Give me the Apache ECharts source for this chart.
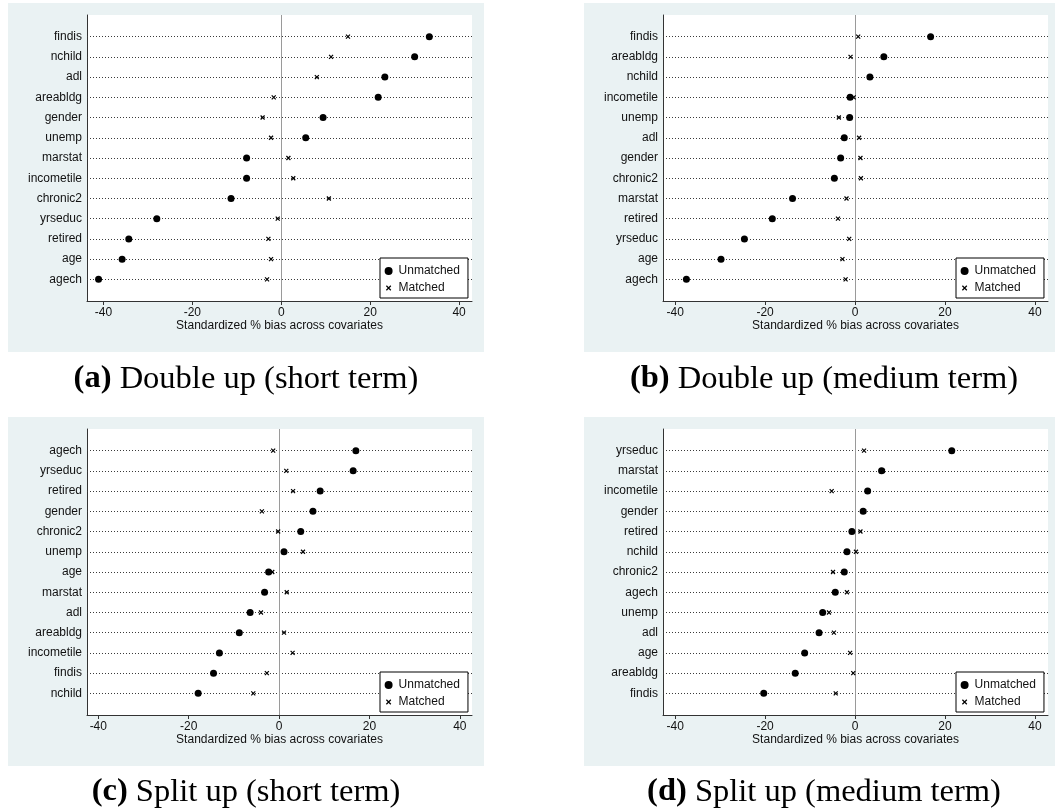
<!DOCTYPE html>
<html>
<head>
<meta charset="utf-8">
<script src="https://cdn.jsdelivr.net/npm/echarts@6/dist/echarts.min.js"></script>
<style>
  html, body { margin: 0; padding: 0; background: #ffffff; }
  #chart { width: 1055px; height: 811px; }
</style>
</head>
<body>
<div id="chart"></div>
<script>
// Standardized % bias per covariate, before (Unmatched) and after (Matched) matching.
// Row order is top to bottom as plotted.

// (a) Double up, short term
const namesA = ['findis', 'nchild', 'adl', 'areabldg', 'gender', 'unemp', 'marstat', 'incometile', 'chronic2', 'yrseduc', 'retired', 'age', 'agech'];
const unmatchedA = [33.3, 30.0, 23.3, 21.8, 9.4, 5.5, -7.8, -7.8, -11.3, -28.0, -34.3, -35.8, -41.1];
const matchedA = [15.0, 11.2, 8.0, -1.7, -4.2, -2.3, 1.6, 2.7, 10.7, -0.8, -2.9, -2.3, -3.2];

// (b) Double up, medium term
const namesB = ['findis', 'areabldg', 'nchild', 'incometile', 'unemp', 'adl', 'gender', 'chronic2', 'marstat', 'retired', 'yrseduc', 'age', 'agech'];
const unmatchedB = [16.8, 6.4, 3.3, -1.1, -1.2, -2.4, -3.2, -4.6, -13.9, -18.4, -24.6, -29.8, -37.5];
const matchedB = [0.7, -1.0, 3.2, -0.3, -3.6, 0.9, 1.2, 1.3, -1.9, -3.8, -1.3, -2.8, -2.1];

// (c) Split up, short term
const namesC = ['agech', 'yrseduc', 'retired', 'gender', 'chronic2', 'unemp', 'age', 'marstat', 'adl', 'areabldg', 'incometile', 'findis', 'nchild'];
const unmatchedC = [17.0, 16.4, 9.1, 7.5, 4.8, 1.1, -2.3, -3.2, -6.4, -8.8, -13.2, -14.5, -17.9];
const matchedC = [-1.3, 1.6, 3.1, -3.8, -0.2, 5.3, -1.5, 1.7, -4.0, 1.1, 3.0, -2.7, -5.7];

// (d) Split up, medium term
const namesD = ['yrseduc', 'marstat', 'incometile', 'gender', 'retired', 'nchild', 'chronic2', 'agech', 'unemp', 'adl', 'age', 'areabldg', 'findis'];
const unmatchedD = [21.5, 5.9, 2.8, 1.8, -0.7, -1.8, -2.4, -4.4, -7.2, -8.0, -11.2, -13.3, -20.3];
const matchedD = [2.0, 6.2, -5.2, 2.0, 1.2, 0.2, -4.9, -1.8, -5.8, -4.7, -1.1, -0.4, -4.3];

const xTicks = [-40, -20, 0, 20, 40];
const xTitle = 'Standardized % bias across covariates';
const legendNames = ['Unmatched', 'Matched'];
const captionTags = ['(a)', '(b)', '(c)', '(d)'];
const captionTexts = ['Double up (short term)', 'Double up (medium term)', 'Split up (short term)', 'Split up (medium term)'];

// Layout of the four panels (pixels) and their x-axis extents
const panels = [
  { names: namesA, un: unmatchedA, ma: matchedA, left: 87,  top: 15,  min: -43.7, max: 42.9, bgX: 8,   bgY: 3,   capX: 246, capY: 379 },
  { names: namesB, un: unmatchedB, ma: matchedB, left: 663, top: 15,  min: -42.7, max: 42.9, bgX: 584, bgY: 3,   capX: 824, capY: 379 },
  { names: namesC, un: unmatchedC, ma: matchedC, left: 87,  top: 429, min: -42.5, max: 42.7, bgX: 8,   bgY: 417, capX: 246, capY: 792 },
  { names: namesD, un: unmatchedD, ma: matchedD, left: 663, top: 429, min: -42.7, max: 42.9, bgX: 584, bgY: 417, capX: 824, capY: 792 }
];

const PLOT_W = 385, PLOT_H = 286, BG_W = 476, BG_H = 349;
const FONT = 'Liberation Sans, Arial, Helvetica, sans-serif';
const CAPTION_FONT = '"Liberation Serif", "Times New Roman", serif';
const CAPTION_SIZE = 32.5;
const INK = '#111111';
const AXIS = '#333333';
const PANEL_BG = '#eaf2f3';
const ROW_PAD = 1.07;

const crossPath = 'path://M0,0L10,10M10,0L0,10';
const crossIcon = 'path://M-4,-4M0,0L10,10M10,0L0,10M14,14';

const grid = [], xAxis = [], yAxis = [], series = [], legend = [], graphic = [];

panels.forEach((p, k) => {
  const rows = p.names.map((_, i) => i);

  graphic.push({
    type: 'rect', z: -10, silent: true,
    shape: { x: p.bgX, y: p.bgY, width: BG_W, height: BG_H },
    style: { fill: PANEL_BG }
  });
  graphic.push({
    type: 'text', silent: true,
    x: p.capX, y: p.capY,
    style: {
      text: '{b|' + captionTags[k] + '} ' + captionTexts[k],
      font: CAPTION_SIZE + 'px ' + CAPTION_FONT,
      fill: '#000',
      align: 'center', verticalAlign: 'middle',
      rich: { b: { fontWeight: 'bold', fontSize: CAPTION_SIZE, fontFamily: CAPTION_FONT } }
    }
  });

  grid.push({
    left: p.left, top: p.top, width: PLOT_W, height: PLOT_H,
    show: true, backgroundColor: '#ffffff', borderWidth: 0
  });

  xAxis.push({
    type: 'value', gridIndex: k, min: p.min, max: p.max,
    splitLine: { show: false },
    axisLine: { show: true, onZero: false, lineStyle: { color: AXIS, width: 1 } },
    axisTick: { show: true, customValues: xTicks, length: 4, lineStyle: { color: AXIS } },
    axisLabel: { customValues: xTicks, margin: 6, fontSize: 12, color: INK, fontFamily: FONT },
    name: xTitle, nameLocation: 'middle', nameGap: 19,
    nameTextStyle: { fontSize: 12, color: INK, fontFamily: FONT }
  });

  yAxis.push({
    type: 'value', gridIndex: k, inverse: true,
    min: -ROW_PAD, max: p.names.length - 1 + ROW_PAD,
    splitLine: { show: false },
    axisLine: { show: true, onZero: false, lineStyle: { color: AXIS, width: 1 } },
    axisTick: { show: false, customValues: rows },
    axisLabel: {
      customValues: rows, margin: 5, fontSize: 12, color: INK, fontFamily: FONT,
      formatter: v => p.names[Math.round(v)]
    }
  });

  series.push({
    name: legendNames[0], type: 'scatter', xAxisIndex: k, yAxisIndex: k, z: 4,
    symbol: 'circle', symbolSize: 7,
    itemStyle: { color: '#000000', opacity: 1 },
    data: p.un.map((v, i) => [v, i])
  });

  series.push({
    name: legendNames[1], type: 'scatter', xAxisIndex: k, yAxisIndex: k, z: 3,
    symbol: crossPath, symbolSize: 4,
    itemStyle: { color: 'transparent', borderColor: '#000000', borderWidth: 1.2, opacity: 1 },
    data: p.ma.map((v, i) => [v, i]),
    markLine: {
      silent: true, z: 1, symbol: 'none', animation: false,
      label: { show: false },
      emphasis: { disabled: true },
      data: rows.map(i => ({ yAxis: i, lineStyle: { color: '#3a3a3a', width: 1, type: [1, 2] } }))
        .concat([{ xAxis: 0, lineStyle: { color: '#9a9a9a', width: 1, type: 'solid' } }])
    }
  });

  legend.push({
    orient: 'vertical',
    left: p.left + PLOT_W - 92, top: p.top + PLOT_H - 43,
    backgroundColor: '#ffffff', borderColor: '#000000', borderWidth: 1, borderRadius: 0,
    padding: [6, 8, 3, 4], itemGap: 3, itemWidth: 8, itemHeight: 8,
    selectedMode: false,
    textStyle: { fontSize: 12, color: INK, fontFamily: FONT, lineHeight: 14, padding: [0, 0, 0, 1] },
    data: [
      { name: legendNames[0], icon: 'circle', itemStyle: { color: '#000000', borderWidth: 0 } },
      { name: legendNames[1], icon: crossIcon, itemStyle: { color: 'transparent', borderColor: '#000000', borderWidth: 1.2 } }
    ]
  });
});

const chart = echarts.init(document.getElementById('chart'), null, { renderer: 'canvas' });
chart.setOption({
  animation: false,
  backgroundColor: '#ffffff',
  textStyle: { fontFamily: FONT },
  grid, xAxis, yAxis, series, legend, graphic
});
</script>
</body>
</html>
